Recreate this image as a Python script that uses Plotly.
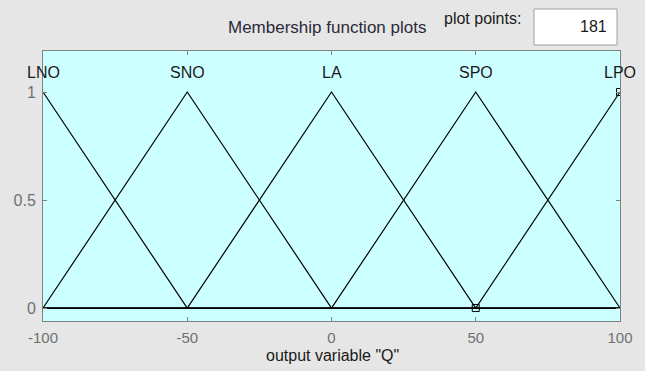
import plotly.graph_objects as go

# Membership functions of output variable "Q" (triangular, vertices clipped to range)
mf_names = ["LNO", "SNO", "LA", "SPO", "LPO"]
mf_peaks = [-100, -50, 0, 50, 100]
mf_x = [
    [-100, -50, 100],
    [-100, -50, 0, 100],
    [-100, -50, 0, 50, 100],
    [-100, 0, 50, 100],
    [-100, 50, 100],
]
mf_y = [
    [1, 0, 0],
    [0, 1, 0, 0],
    [0, 0, 1, 0, 0],
    [0, 0, 1, 0],
    [0, 0, 1],
]
x_ticks = [-100, -50, 0, 50, 100]
x_ticktext = ["-100", "-50", "0", "50", "100"]
y_ticks = [0, 0.5, 1]
y_ticktext = ["0", "0.5", "1"]
plot_points = 181

FONT = "Liberation Sans, Arial, sans-serif"
fig = go.Figure()
for nm, xs, ys in zip(mf_names, mf_x, mf_y):
    fig.add_trace(go.Scatter(x=xs, y=ys, mode="lines", name=nm,
                             line=dict(color="black", width=1.2), showlegend=False,
                             hoverinfo="skip"))

# selection markers
fig.add_trace(go.Scatter(x=[100, 50], y=[1, 0], mode="markers", showlegend=False,
                         hoverinfo="skip",
                         marker=dict(symbol="square-open", size=7, color="black",
                                     line=dict(width=1))))

for nm, px in zip(mf_names, mf_peaks):
    fig.add_annotation(x=px, y=1.09, text=nm, showarrow=False, xanchor="center",
                       yanchor="middle", font=dict(family=FONT, size=16, color="#1a1a1a"))

W, H = 645, 371
L, R, T, B = 43, 620, 51, 321
pw, ph = R - L, B - T
def px2paper(x, y):
    return (x - L) / pw, (B - y) / ph

# title
tx, ty = px2paper(327, 27)
fig.add_annotation(xref="paper", yref="paper", x=tx, y=ty, text="Membership function plots",
                   showarrow=False, xanchor="center", yanchor="middle",
                   font=dict(family=FONT, size=17, color="#2a2a3a"))
# plot points label
tx, ty = px2paper(482, 18)
fig.add_annotation(xref="paper", yref="paper", x=tx, y=ty, text="plot points:",
                   showarrow=False, xanchor="center", yanchor="middle",
                   font=dict(family=FONT, size=16, color="#1a1a1a"))
# box
x0, y0 = px2paper(534, 9)
x1, y1 = px2paper(617, 45)
fig.add_shape(type="rect", xref="paper", yref="paper", x0=x0, y0=y0, x1=x1, y1=y1,
              fillcolor="white", line=dict(color="#a0a0a0", width=1))
tx, ty = px2paper(609, 26)
fig.add_annotation(xref="paper", yref="paper", x=tx, y=ty, text=str(plot_points),
                   showarrow=False, xanchor="right", yanchor="middle",
                   font=dict(family=FONT, size=16, color="#1a1a1a"))
# x-axis title
tx, ty = px2paper(332, 355)
fig.add_annotation(xref="paper", yref="paper", x=tx, y=ty, text='output variable "Q"',
                   showarrow=False, xanchor="center", yanchor="middle",
                   font=dict(family=FONT, size=16, color="#1a1a1a"))

fig.update_layout(
    width=W, height=H,
    margin=dict(l=L, r=W - R, t=T, b=H - B, pad=0),
    paper_bgcolor="#e6e6e6",
    plot_bgcolor="#ccffff",
    hovermode=False,
    xaxis=dict(range=[-100, 100], tickvals=x_ticks, ticktext=x_ticktext,
               ticks="inside", ticklen=4, ticklabelstandoff=3,
               tickcolor="#808080", showgrid=False, zeroline=False,
               showline=True, linecolor="#808080", linewidth=1, mirror="allticks",
               tickfont=dict(family=FONT, size=15, color="#707070")),
    yaxis=dict(range=[-0.06, 1.19], tickvals=y_ticks, ticktext=y_ticktext,
               ticks="inside", ticklen=4, ticklabelstandoff=3, tickcolor="#808080",
               showgrid=False, zeroline=False, showline=True, linecolor="#808080",
               linewidth=1, mirror="allticks",
               tickfont=dict(family=FONT, size=16, color="#707070")),
)

fig.write_html("out.html", config={"displayModeBar": False},
               post_script="document.body.style.margin='0';document.body.style.background='#e6e6e6';")
